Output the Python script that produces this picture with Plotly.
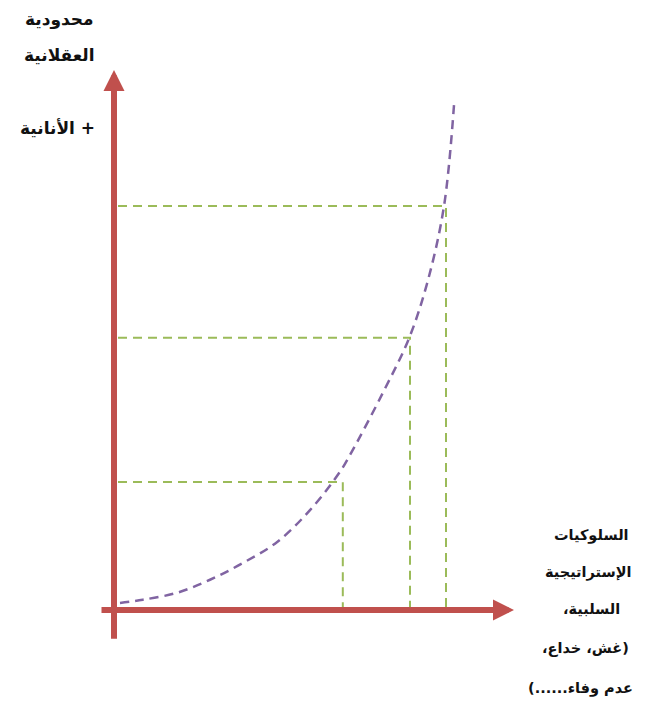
import plotly.graph_objects as go

# The page body adds an 8px margin on every side; keep the figure inside the window.
OFF = 8
W, H = 645 - 2 * OFF, 707 - 2 * OFF

# Data (arbitrary units: origin at the corner of the two axes)
curve_x = [0.15, 0.72, 1.58, 2.40, 3.22, 4.08, 4.90, 5.65, 5.90, 6.72, 7.38, 7.85, 8.25, 8.50]
curve_y = [0.13, 0.19, 0.32, 0.56, 0.87, 1.26, 1.85, 2.56, 2.87, 4.02, 5.04, 6.11, 7.48, 9.35]

level_y = [2.37, 5.04, 7.48]      # horizontal guide levels
level_x = [5.72, 7.40, 8.30]      # matching vertical guide positions
guide_start = 0.10

x_axis_from, x_axis_to = -0.35, 10.0
y_axis_from, y_axis_to = -0.56, 10.0

y_label_lines = ["محدودية", "العقلانية", "", "\u200f+ الأنانية"]
x_label_lines = ["السلوكيات", "الإستراتيجية", "\u200fالسلبية،\u200f",
                 "\u200f(غش، خداع،\u200f", "\u200fعدم وفاء......)\u200f"]

RED = "#C0504D"
PURPLE = "#8064A2"
GREEN = "#9BBB59"

fig = go.Figure()

# green guide lines
for lx, ly in zip(level_x, level_y):
    fig.add_trace(go.Scatter(
        x=[guide_start, lx, lx], y=[ly, ly, 0],
        mode="lines", line=dict(color=GREEN, width=2, dash="9px,6px"),
        hoverinfo="skip", showlegend=False))

# purple curve
fig.add_trace(go.Scatter(
    x=curve_x, y=curve_y, mode="lines",
    line=dict(color=PURPLE, width=2.5, dash="9px,6px", shape="spline"),
    hoverinfo="skip", showlegend=False))

# axes as arrows
fig.add_annotation(x=x_axis_to, y=0, ax=x_axis_from, ay=0,
                   xref="x", yref="y", axref="x", ayref="y", text="",
                   showarrow=True, arrowhead=2, arrowsize=0.7, arrowwidth=6,
                   arrowcolor=RED, standoff=0, startstandoff=0)
fig.add_annotation(x=0, y=y_axis_to, ax=0, ay=y_axis_from,
                   xref="x", yref="y", axref="x", ayref="y", text="",
                   showarrow=True, arrowhead=2, arrowsize=0.7, arrowwidth=6,
                   arrowcolor=RED, standoff=0, startstandoff=0)

FONT_Y = dict(family="DejaVu Sans, Arial, sans-serif", size=17, color="#111111")
FONT_X = dict(family="DejaVu Sans, Arial, sans-serif", size=14.5, color="#111111")


def paper(px, py):
    return (px - OFF) / W, 1 - (py - OFF) / H


# y-axis label (top-left), positions in window pixels
y_label_px = [(60, 19), (60, 55), (60, 91), (57, 128)]
for t, (px, py) in zip(y_label_lines, y_label_px):
    if not t:
        continue
    xp, yp = paper(px, py)
    fig.add_annotation(x=xp, y=yp, xref="paper", yref="paper",
                       text="<b>" + t + "</b>", showarrow=False, font=FONT_Y,
                       xanchor="center", yanchor="middle")

# x-axis label (bottom-right)
x_label_px = [(591, 535), (588, 572), (591, 609), (585, 648), (580, 688)]
for t, (px, py) in zip(x_label_lines, x_label_px):
    xp, yp = paper(px, py)
    fig.add_annotation(x=xp, y=yp, xref="paper", yref="paper",
                       text="<b>" + t + "</b>", showarrow=False, font=FONT_X,
                       xanchor="center", yanchor="middle")

# window pixel = 114 + 40*x ; window pixel_y = 610 - 54*y
ox, oy = 114 - OFF, 610 - OFF
fig.update_xaxes(range=[-ox / 40, (W - ox) / 40], visible=False)
fig.update_yaxes(range=[-(H - oy) / 54, oy / 54], visible=False)
fig.update_layout(width=W, height=H, margin=dict(l=0, r=0, t=0, b=0),
                  plot_bgcolor="white", paper_bgcolor="white",
                  showlegend=False)

fig.write_html("out.html")
